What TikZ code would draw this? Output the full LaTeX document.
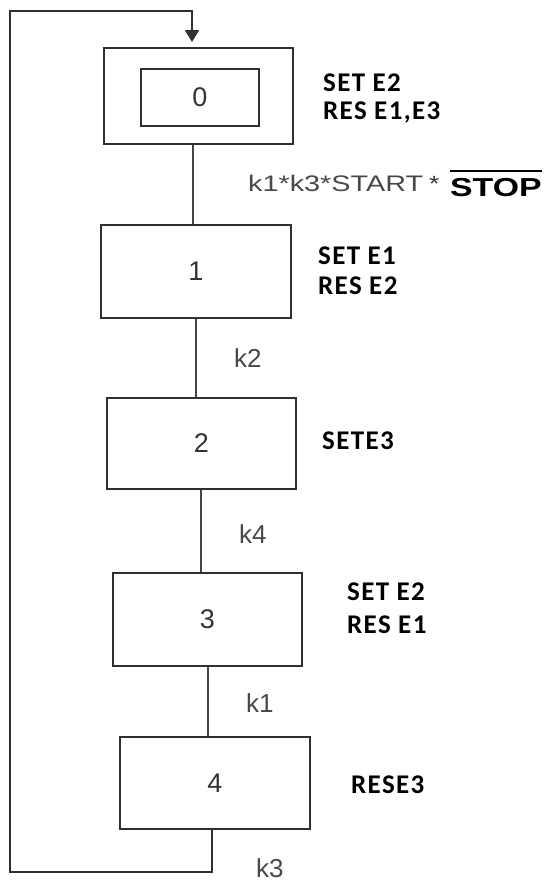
\documentclass[tikz,border=0pt]{standalone}
\usepackage{fontspec}
\setmainfont{Liberation Sans}
\newfontfamily\actfont{Carlito}[LetterSpace=5]
\usetikzlibrary{arrows.meta}
\definecolor{boxgray}{HTML}{303030}
\definecolor{txtgray}{HTML}{333333}
\definecolor{condgray}{HTML}{484848}
\begin{document}
\begin{tikzpicture}[x=1pt,y=-1pt,
  stepbox/.style={draw=boxgray, line width=2pt, inner sep=0pt, text=txtgray,
                  font=\fontsize{27}{27}\selectfont},
  act/.style={anchor=base west, inner sep=0pt, text=black,
              font=\actfont\bfseries\fontsize{27}{27}\selectfont},
  cond/.style={anchor=base west, inner sep=0pt, text=condgray,
               font=\fontsize{26}{26}\selectfont},
  link/.style={draw=boxgray!90, line width=1.6pt},
  loop/.style={draw=boxgray, line width=2pt}]
\useasboundingbox (0,0) rectangle (555,881);

% steps
\node[stepbox, minimum width=189pt, minimum height=96pt] (s0) at (198.5,96) {};
\node[stepbox, minimum width=118pt, minimum height=57pt] (s0i) at (200,97.5) {0};
\node[stepbox, minimum width=190pt, minimum height=93pt] (s1) at (196,271.5) {1};
\node[stepbox, minimum width=189pt, minimum height=91pt] (s2) at (201.5,443.5) {2};
\node[stepbox, minimum width=189pt, minimum height=93pt] (s3) at (207.5,619.5) {3};
\node[stepbox, minimum width=190pt, minimum height=92pt] (s4) at (215,783) {4};

% actions
\node[act] (a0a) at (323,91) {SET E2};
\node[act] (a0b) at (323,119) {RES E1,E3};
\node[act] (a1a) at (318,264) {SET E1};
\node[act] (a1b) at (318,294) {RES E2};
\node[act] (a2) at (322,449) {SETE3};
\node[act] (a3a) at (347,600) {SET E2};
\node[act] (a3b) at (347,633) {RES E1};
\node[act] (a4) at (351,793) {RESE3};

% transitions
\draw[link] (193,0 |- s0.south) -- (193,0 |- s1.north);
\draw[link] (196,0 |- s1.south) -- (196,0 |- s2.north);
\draw[link] (201,0 |- s2.south) -- (201,0 |- s3.north);
\draw[link] (208,0 |- s3.south) -- (208,0 |- s4.north);

\node[anchor=base west, inner sep=0pt, text=condgray] (t0) at (248,191)
  {\scalebox{1.28}[1]{\fontsize{22.5}{22.5}\selectfont k1*k3*START}};
\node[anchor=base west, inner sep=0pt, text=black!80] (ast) at (429,191)
  {\scalebox{1.2}[1]{\fontsize{22}{22}\selectfont *}};
\node[anchor=base west, inner sep=0pt, text=black] (stop) at (450,196)
  {\scalebox{1.3}[1]{\bfseries\fontsize{26}{26}\selectfont STOP}};
\draw[line width=1.8pt] ([yshift=7pt]stop.north west) -- ([yshift=7pt]stop.north east);

\node[cond] (k2) at (234,367) {k2};
\node[cond] (k4) at (239,543) {k4};
\node[cond] (k1) at (246,712) {k1};
\node[cond] (k3) at (256,877) {k3};

% return loop
\coordinate (entry) at (192,42);
\draw[loop, -{Triangle[width=14pt,length=12pt]}]
  (212,0 |- s4.south) -- (212,872) -- (9.5,872) -- (9.5,11) -- (192,11) -- (entry);
\end{tikzpicture}
\end{document}
